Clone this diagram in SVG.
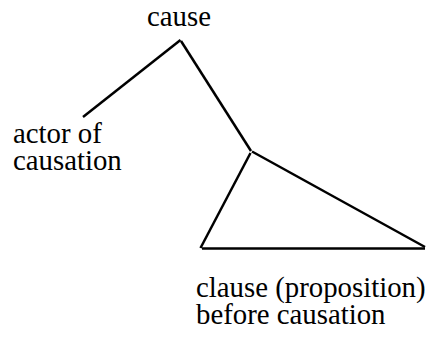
<svg xmlns="http://www.w3.org/2000/svg" width="430" height="337" viewBox="0 0 430 337">
<style>
text{font-family:"Liberation Serif","Times New Roman",serif;font-size:28.8px;fill:#000}
.e{stroke:#000;stroke-width:2.5;fill:none;stroke-linecap:butt}
</style>
<rect width="430" height="337" fill="#fff"/>
<g id="connectors">
<line class="e" x1="180.5" y1="40" x2="83" y2="117"/>
<line class="e" x1="181" y1="41" x2="251" y2="151"/>
<line class="e" x1="250.5" y1="153" x2="200.5" y2="248"/>
<line class="e" x1="252" y1="151.5" x2="425" y2="247"/>
<line class="e" x1="202" y1="248.5" x2="425" y2="248.5"/>
</g>
<g id="node-cause"><text x="147" y="26">cause</text></g>
<g id="node-actor"><text x="13" y="143">actor of</text><text x="13" y="170">causation</text></g>
<g id="node-clause"><text x="196" y="297">clause (proposition)</text><text x="196" y="324">before causation</text></g>
</svg>
